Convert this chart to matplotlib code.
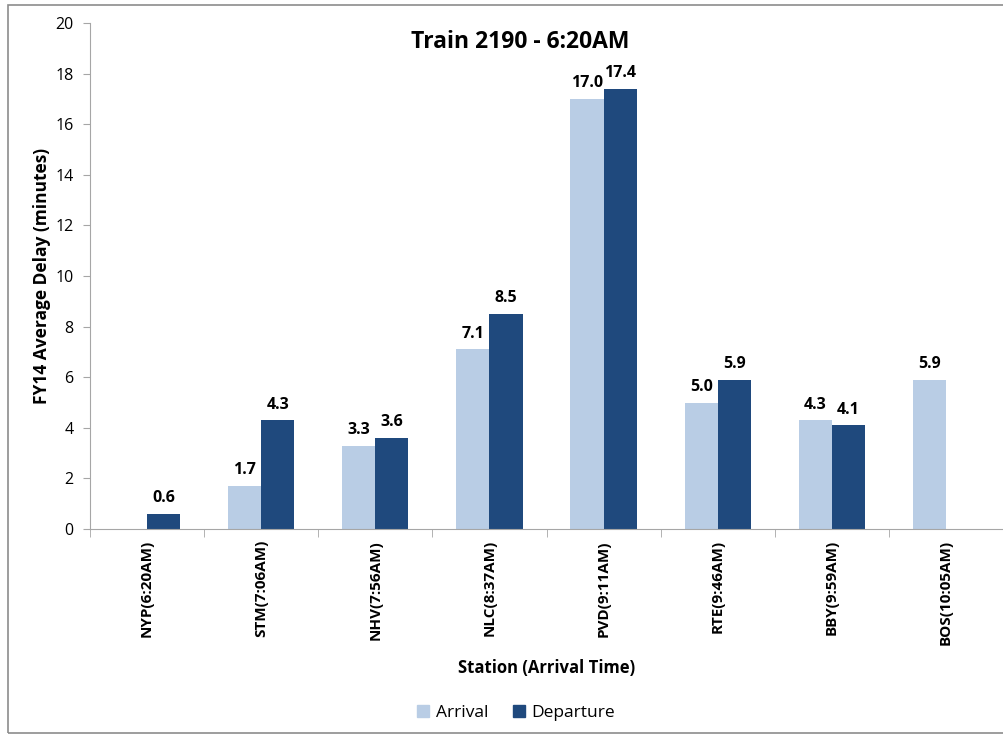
import matplotlib
matplotlib.use("Agg")
import matplotlib.pyplot as plt
import numpy as np
from matplotlib.patches import Rectangle

plt.rcParams['font.family'] = ['Open Sans', 'DejaVu Sans']

stations = ["NYP(6:20AM)", "STM(7:06AM)", "NHV(7:56AM)", "NLC(8:37AM)",
            "PVD(9:11AM)", "RTE(9:46AM)", "BBY(9:59AM)", "BOS(10:05AM)"]
arrival = [None, 1.7, 3.3, 7.1, 17.0, 5.0, 4.3, 5.9]
departure = [0.6, 4.3, 3.6, 8.5, 17.4, 5.9, 4.1, None]

arr_color = "#B9CDE5"
dep_color = "#1F497D"
axis_gray = "#A6A6A6"

fig = plt.figure(figsize=(10.04, 7.36), dpi=100)
ax = fig.add_axes([90 / 1004, 1 - 529 / 736, 913 / 1004, (529 - 23) / 736])

x = np.arange(len(stations))
w = 0.29

for i in range(len(stations)):
    if arrival[i] is not None:
        ax.bar(x[i] - w / 2, arrival[i], w, color=arr_color, zorder=2)
        ax.text(x[i] - w / 2, arrival[i] + 0.3, f"{arrival[i]:.1f}", ha="center",
                va="bottom", fontsize=11.5, fontweight="bold")
    if departure[i] is not None:
        ax.bar(x[i] + w / 2, departure[i], w, color=dep_color, zorder=2)
        ax.text(x[i] + w / 2, departure[i] + 0.3, f"{departure[i]:.1f}", ha="center",
                va="bottom", fontsize=11.5, fontweight="bold")

ax.set_xlim(-0.5, len(stations) - 0.5)
ax.set_ylim(0, 20)
ax.set_yticks(np.arange(0, 21, 2))
ax.tick_params(axis="y", labelsize=11.5, length=5, color=axis_gray, pad=7)

ax.set_xticks(x)
ax.set_xticklabels(stations, rotation=90, fontsize=11, fontweight="bold")
ax.tick_params(axis="x", length=0, pad=8)
ax.set_xticks(np.arange(-0.5, len(stations), 1), minor=True)
ax.tick_params(axis="x", which="minor", length=6, color=axis_gray)

for s in ["top", "right"]:
    ax.spines[s].set_visible(False)
for s in ["left", "bottom"]:
    ax.spines[s].set_color(axis_gray)

ax.set_ylabel("FY14 Average Delay (minutes)", fontsize=12.5, fontweight="bold", labelpad=3)
ax.set_xlabel("Station (Arrival Time)", fontsize=12, fontweight="bold", labelpad=10)

fig.text(520 / 1004, 1 - 42 / 736, "Train 2190 - 6:20AM", ha="center", va="center",
         fontsize=16.5, fontweight="bold")

handles = [Rectangle((0, 0), 1, 1, color=arr_color), Rectangle((0, 0), 1, 1, color=dep_color)]
fig.legend(handles, ["Arrival", "Departure"], loc="center", bbox_to_anchor=(516 / 1004, 1 - 713 / 736),
           ncol=2, frameon=False, fontsize=12.5, handlelength=0.7, handleheight=0.7,
           handletextpad=0.4, columnspacing=1.4)

fig.patches.append(Rectangle((8 / 1004, 3 / 736), 1.2, 1 - 8 / 736, transform=fig.transFigure,
                             fill=False, edgecolor="#8C8C8C", linewidth=1.2))

fig.savefig("out.png", dpi=100)
